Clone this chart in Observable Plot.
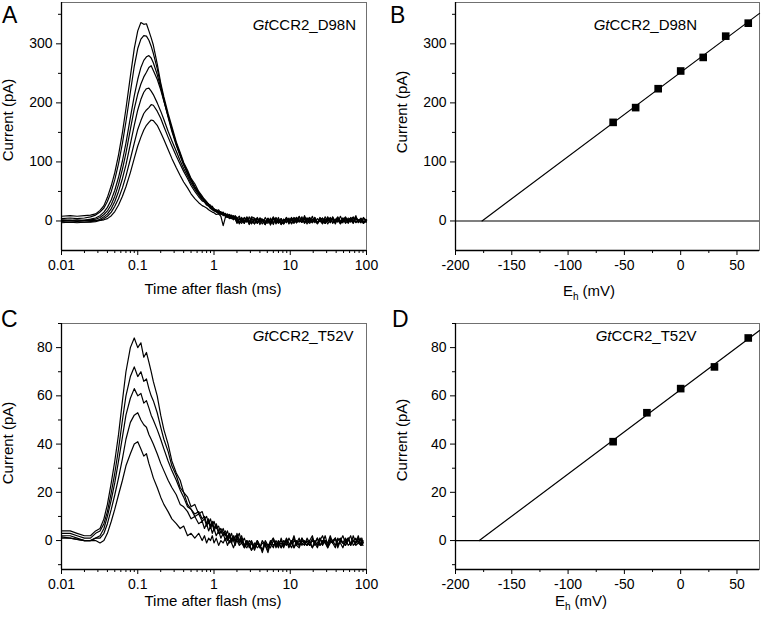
<!DOCTYPE html>
<html>
<head>
<meta charset="utf-8">
<script src="https://cdn.jsdelivr.net/npm/d3@7"></script>
<script src="https://cdn.jsdelivr.net/npm/@observablehq/plot@0.6"></script>
<style>
  body { margin: 0; background: #fff; }
  #fig { position: relative; width: 762px; height: 623px; font-family: "Liberation Sans", Arial, Helvetica, sans-serif; }
  #fig svg { position: absolute; }
</style>
</head>
<body>
<div id="fig"></div>
<script>
// ---------- Panel A: GtCCR2_D98N photocurrent traces (pA) vs time after flash (ms) ----------
const timeA = [0.01, 0.013, 0.016, 0.02, 0.024, 0.028, 0.032, 0.036, 0.04, 0.045, 0.05, 0.056, 0.063, 0.07, 0.08, 0.09,
  0.1, 0.11, 0.12, 0.13, 0.14, 0.15, 0.16, 0.18, 0.2, 0.22, 0.25, 0.28, 0.32, 0.36, 0.4, 0.45,
  0.5, 0.56, 0.63, 0.7, 0.75, 0.8, 0.85, 0.9, 0.95, 1.0, 1.07, 1.15, 1.23, 1.32, 1.41, 1.5, 1.6, 1.7, 1.8, 1.9,
  2.0, 2.15, 2.3, 2.5, 2.7, 2.9, 3.1, 3.4, 3.7, 4.0, 4.3, 4.7, 5.1, 5.5, 6.0, 6.5, 7.0, 7.6, 8.2, 8.9,
  9.6, 10.4, 11.2, 12.1, 13.1, 14.2, 15.4, 16.6, 18, 19.5, 21, 22.7, 24.5, 26.5, 28.7, 31, 33.5, 36, 39, 42,
  45.5, 49, 53, 57.5, 62, 67, 72.5, 78, 84.5, 91, 100];

const A_p60 = [8, 9, 8, 9, 10, 12, 18, 26, 40, 60, 82, 112, 150, 190, 245, 292,
  322, 336, 333, 334, 322, 310, 298, 266, 234, 210, 182, 160, 134, 116, 99, 86,
  72, 63, 50, 42, 36, 33, 28, 27, 22, 21, 17, 19, 13, 15, 9, 12, 8, 10, 6, 9,
  4, 8, -1, 6, 2, -3, 7, 5, -4, 3, 0, -6, 4, -2, 7, -5, 2, -6, 3, -3,
  5, -4, 6, -1, 8, -2, 4, -5, 3, -1, 6, -4, 2, -3, 7, 0, 5, -4, 3, -2,
  8, -1, 4, -3, 6, 0, 9, -2, 5, -3, 1];
const A_p40 = [4, 5, 4, 5, 7, 10, 15, 22, 33, 50, 70, 97, 132, 168, 218, 262,
  292, 308, 314, 313, 306, 296, 284, 258, 230, 206, 178, 156, 130, 112, 96, 82,
  70, 58, 48, 40, 37, 31, 29, 24, 25, 20, 19, 15, 16, 11, 13, 9, 11, 7, 9, 5,
  -2, 5, 1, -4, 7, 0, -5, 4, -2, 5, 2, -6, 2, -3, 6, 1, -4, 1, -5, 4,
  -1, 6, -3, 4, 0, -2, 9, -1, 5, -2, 6, -3, 2, 4, -4, 7, -2, 3, -5, 5,
  1, -3, 6, -1, 3, -4, 5, 2, -2, 6, 0];
const A_p20 = [2, 1, 2, 1, 3, 5, 9, 15, 23, 36, 52, 74, 102, 132, 175, 212,
  240, 260, 272, 278, 280, 276, 268, 248, 226, 204, 176, 152, 128, 110, 95, 80,
  68, 57, 46, 38, 35, 30, 27, 25, 21, 19, 16, 17, 12, 13, 8, 10, 7, 9, 4, 7,
  6, -3, 4, 1, -2, 7, -4, 2, 5, -6, 3, -1, 5, -7, 3, 0, -2, 4, -4, 6,
  -5, 2, 1, -3, 7, -2, 3, 5, -2, 8, -3, 4, 0, -5, 3, -1, 6, -3, 2, 7,
  -4, 1, -2, 5, 3, -3, 6, -1, 4, -4, 2];
const A_0 = [0, 1, 0, 1, 2, 3, 6, 11, 17, 28, 42, 62, 88, 115, 155, 190,
  215, 232, 244, 252, 260, 263, 255, 240, 222, 203, 178, 155, 131, 113, 97, 82,
  70, 58, 48, 38, 36, 30, 28, 25, 22, 19, 18, 14, 15, 11, 12, 7, 9, 5, 8, 4,
  -4, 3, 0, -2, 6, -5, 2, 4, -3, 1, -5, 6, -2, 3, -6, 5, -1, -4, 3, 0,
  -2, 5, -3, 6, 0, 4, -4, 3, 6, -2, 3, -5, 1, 5, -2, 4, -3, 7, -1, 2,
  -4, 5, 0, 3, -2, 6, -3, 1, 4, -1, 2];
const A_m20 = [-1, -2, -1, -2, -1, 0, 3, 7, 12, 21, 33, 50, 72, 95, 130, 162,
  188, 206, 218, 224, 225, 220, 214, 200, 186, 172, 152, 136, 118, 102, 89, 76,
  64, 54, 44, 36, 34, 28, 26, 23, 20, 18, 15, 16, 11, 12, 8, 10, 5, 8, 4, 6,
  2, -5, 6, -1, 3, -6, 4, 0, -4, 5, 1, -3, 2, -5, 4, -2, 6, -6, 1, 4,
  -3, 2, -4, 5, -1, 7, -3, 2, 5, -2, 0, -4, 6, -1, 3, -5, 2, 4, -2, 6,
  -3, 0, 5, -4, 3, 7, -2, 2, -3, 4, 1];
const A_m40 = [-3, -2, -3, -2, -2, -1, 1, 4, 8, 15, 25, 38, 56, 76, 105, 132,
  155, 170, 182, 188, 192, 197, 196, 186, 174, 160, 142, 127, 110, 96, 84, 72,
  60, 50, 41, 34, 32, 27, 25, 21, 19, 17, 16, 12, 13, 9, 10, 6, 8, 4, 7, 3,
  5, -1, -4, 4, 1, -2, 6, -5, 3, -1, 2, -6, 4, -1, 5, -3, 2, -2, -5, 6,
  -1, 3, 5, -3, 2, -2, 6, -1, -4, 3, 1, -3, 5, 0, -4, 6, -2, 3, -1, 4,
  -5, 2, 7, -2, 1, -3, 5, -1, 3, -4, 0];
const A_m60 = [1, 1, 0, 1, 1, 1, 1, 2, 4, 9, 16, 27, 42, 58, 82, 106,
  127, 142, 154, 162, 167, 171, 170, 162, 150, 138, 121, 106, 90, 77, 66, 56,
  46, 38, 31, 26, 24, 22, 19, 17, 15, 14, 11, 12, 8, -8, 6, 7, 4, 5, 2, 4,
  -3, 4, 1, -4, 5, -2, 0, -5, 6, -2, 3, 0, -4, 5, -3, 6, -2, 4, -4, 0,
  3, -5, 2, 6, -2, 4, -1, 5, 1, -3, 4, -2, 0, 5, -4, 2, -1, 6, -3, 3,
  -2, 5, -4, 1, 4, -1, 6, -3, 2, 0, -2];

// ---------- Panel B: peak current (pA) vs holding potential Eh (mV), GtCCR2_D98N ----------
const ehB = [-60, -40, -20, 0, 20, 40, 60];
const peakB = [167, 192, 224, 254, 277, 313, 335];

// ---------- Panel C: GtCCR2_T52V photocurrent traces ----------
const timeC = [0.01, 0.013, 0.016, 0.02, 0.024, 0.028, 0.032, 0.036, 0.04, 0.045, 0.05, 0.056, 0.063, 0.07, 0.08, 0.09,
  0.1, 0.11, 0.12, 0.13, 0.14, 0.15, 0.16, 0.18, 0.2, 0.22, 0.25, 0.28, 0.32, 0.36, 0.4, 0.45,
  0.5, 0.56, 0.63, 0.7, 0.75, 0.8, 0.85, 0.9, 0.95, 1.0, 1.07, 1.15, 1.23, 1.32, 1.41, 1.5, 1.6, 1.7, 1.8, 1.9,
  2.0, 2.15, 2.3, 2.5, 2.7, 2.9, 3.1, 3.4, 3.7, 4.0, 4.3, 4.7, 5.1, 5.5, 6.0, 6.5, 7.0, 7.6, 8.2, 8.9,
  9.6, 10.4, 11.2, 12.1, 13.1, 14.2, 15.4, 16.6, 18, 19.5, 21, 22.7, 24.5, 26.5, 28.7, 31, 33.5, 36, 39, 42,
  45.5, 49, 53, 57.5, 62, 67, 72.5, 78, 84.5, 87, 90];

const C_p60 = [4, 4, 3, 2, 2, 4, 5, 9, 15, 24, 33, 44, 58, 70, 80, 84,
  80, 82, 76, 78, 74, 70, 66, 60, 52, 46, 40, 33, 28, 25, 20, 18,
  14, 15, 11, 12, 9, 10, 7, 9, 6, 8, 5, 6, 3, 5, 2, 4, 1, 3, 0, 2,
  1, 3, -1, 1, -2, 0, -1, -3, 0, -2, -4, -1, -3, 0, -2, -1, -3, 1, -2, 0,
  -3, -1, 2, -2, 0, -1, -2, 1, -1, -3, 0, -2, 1, -1, 2, -2, 0, -1, 1, -3,
  0, 2, -1, 1, -2, 0, -1, 2, -2, 0, -1];
const C_p30 = [3, 3, 2, 1, 1, 3, 4, 7, 12, 20, 28, 38, 50, 60, 68, 72,
  68, 70, 66, 67, 63, 60, 58, 53, 47, 42, 37, 31, 27, 22, 20, 15,
  13, 11, 12, 9, 10, 7, 9, 6, 8, 5, 7, 4, 5, 3, 4, 1, 3, 0, 2, -1,
  3, 0, 2, -2, 0, -3, -1, -4, -1, -3, 0, -2, -4, -1, 1, -2, 0, -3, -1, -2,
  1, -1, -3, 0, -2, 1, -1, 0, -2, 1, -1, -3, 0, 2, -1, -2, 1, 0, -2, 1,
  -1, -3, 0, 1, -2, 2, -1, 0, -2, 1, -1];
const C_0 = [2, 2, 1, 0, 0, 1, 2, 5, 10, 17, 24, 33, 43, 52, 59, 63,
  60, 61, 57, 58, 55, 52, 50, 46, 42, 38, 33, 29, 25, 21, 18, 14,
  13, 10, 11, 8, 9, 6, 8, 5, 7, 4, 6, 3, 4, 2, 3, 0, 2, -1, 1, 0,
  2, -1, 1, -3, -1, -2, 0, -3, -1, -2, -4, 0, -2, -1, 1, -3, -1, 0, -2, 1,
  -1, -3, 0, -1, -2, 1, -1, -2, 0, 2, -2, -1, 1, -2, 0, -1, 2, -1, -3, 0,
  1, -1, -2, 0, 2, -2, -1, 1, 0, -2, 0];
const C_m30 = [1.5, 1, 0.5, 0, 0, 1, 1, 3, 7, 13, 19, 26, 34, 42, 49, 52,
  53, 50, 48, 47, 44, 42, 40, 36, 32, 29, 25, 22, 19, 15, 14, 12,
  9, 10, 7, 8, 5, 7, 4, 6, 3, 5, 2, 4, 1, 3, 0, 2, -1, 1, 0, -2,
  1, -1, 0, -2, -3, -1, -4, -2, 0, -3, -1, -2, -5, -1, -3, 0, -2, -1, -3, 0,
  -2, -1, 1, -2, -3, 0, -1, -2, 0, -3, -1, 1, -2, 0, -1, -3, 0, -1, 1, -2,
  0, -1, -2, 1, -1, 0, -2, -1, 1, -1, -2];
const C_m60 = [1, 1, 0.5, 0, 0, 0, -1, 0, 3, 8, 13, 19, 25, 31, 36, 40,
  41, 38, 35, 36, 32, 29, 26, 22, 18, 15, 12, 9, 7, 5, 6, 2,
  3, 1, 3, 0, 2, -1, 1, 0, 2, -1, 1, -2, 0, -1, 1, -2, 0, -1, -3, -1,
  0, -2, -1, -3, 0, -2, -4, -1, -3, -2, -5, -1, -2, -3, 0, -2, -1, -3, 0, -1,
  -2, 0, -3, -1, 1, -2, 0, -1, -2, 0, -1, 1, -2, -1, 0, -3, -1, 0, 1, -2,
  0, -1, 1, -2, -1, 0, 1, -1, -2, 0, -1];

// ---------- Panel D: peak current vs Eh, GtCCR2_T52V ----------
const ehD = [-60, -30, 0, 30, 60];
const peakD = [41, 53, 63, 72, 84];

// ---------- Axis ticks ----------
const logMajor = [0.01, 0.1, 1, 10, 100];
const logMinor = [0.02, 0.03, 0.04, 0.05, 0.06, 0.07, 0.08, 0.09, 0.2, 0.3, 0.4, 0.5, 0.6, 0.7, 0.8, 0.9,
  2, 3, 4, 5, 6, 7, 8, 9, 20, 30, 40, 50, 60, 70, 80, 90];
const ehMajor = [-200, -150, -100, -50, 0, 50];
const ehMinor = [-175, -125, -75, -25, 25];
const yMajorAB = [0, 100, 200, 300];
const yMinorAB = [50, 150, 250, 350];
const yMajorCD = [0, 20, 40, 60, 80];
const yMinorCD = [-10, 10, 30, 50, 70, 90];

const FONT = '"Liberation Sans", Arial, Helvetica, sans-serif';
const TICK_FS = 14, LABEL_FS = 15, NOTE_FS = 15;
const fig = document.getElementById("fig");

function toRows(time, traces) {
  return traces.flatMap((tr, k) => time.map((t, j) => ({t, v: tr[j], k})));
}
function fitLine(xs, ys, xMax) {
  const mx = d3.mean(xs), my = d3.mean(ys);
  const m = d3.sum(xs, (x, i) => (x - mx) * (ys[i] - my)) / d3.sum(xs, x => (x - mx) ** 2);
  const b = my - m * mx;
  return [{x: -b / m, y: 0}, {x: xMax, y: m * xMax + b}];
}

function frameAxes(xDomain, yDomain, xMaj, xMin, yMaj, yMin) {
  return [
    Plot.frame({stroke: "#707070", strokeWidth: 1}),
    Plot.ruleX([xDomain[0]], {stroke: "black", strokeWidth: 1.3}),
    Plot.ruleY([yDomain[0]], {stroke: "black", strokeWidth: 1.3}),
    Plot.axisY({ticks: yMaj, tickSize: 5, tickPadding: 4, tickFormat: d => String(d), fontSize: TICK_FS, label: null}),
    Plot.axisY({ticks: yMin, tickSize: 3, tickFormat: () => "", label: null}),
    Plot.axisX({ticks: xMaj, tickSize: 5, tickPadding: 5, tickFormat: d => String(d), fontSize: TICK_FS, label: null}),
    Plot.axisX({ticks: xMin, tickSize: 3, tickFormat: () => "", label: null})
  ];
}
function annotation(name, dx, dy) {
  return [
    Plot.text(["Gt"], {text: d => d, frameAnchor: "top-left", dx, dy, textAnchor: "end", lineAnchor: "middle",
      fontStyle: "italic", fontSize: NOTE_FS, fill: "black"}),
    Plot.text([name], {text: d => d, frameAnchor: "top-left", dx, dy, textAnchor: "start", lineAnchor: "middle",
      fontSize: NOTE_FS, fill: "black"})
  ];
}
function place(svg, left, top) {
  svg.style.left = left + "px";
  svg.style.top = top + "px";
  fig.appendChild(svg);
  return d3.select(svg);
}
function yLabel(sel, x, y) {
  sel.append("text").attr("transform", `translate(${x},${y}) rotate(-90)`).attr("text-anchor", "middle")
    .attr("font-family", FONT).attr("font-size", LABEL_FS).attr("fill", "black").text("Current (pA)");
}
function timeLabel(sel, x, y) {
  sel.append("text").attr("x", x).attr("y", y).attr("text-anchor", "middle")
    .attr("font-family", FONT).attr("font-size", LABEL_FS).attr("fill", "black").text("Time after flash (ms)");
}
function ehLabel(sel, x, y) {
  const t = sel.append("text").attr("x", x).attr("y", y).attr("font-family", FONT).attr("font-size", LABEL_FS).attr("fill", "black");
  t.append("tspan").text("E");
  t.append("tspan").attr("font-size", 10).attr("dy", 4).text("h");
  t.append("tspan").attr("dy", -4).text(" (mV)");
}
const plotStyle = {fontFamily: FONT, fontSize: TICK_FS + "px", background: "transparent", overflow: "visible", color: "black"};

// ----- Panel A -----
const dA = {x: [0.01, 100], y: [-50, 370]};
const svgA = Plot.plot({
  width: 381, height: 305, marginLeft: 61, marginRight: 15, marginTop: 2, marginBottom: 55,
  style: plotStyle,
  x: {type: "log", domain: dA.x}, y: {domain: dA.y},
  marks: [
    ...frameAxes(dA.x, dA.y, logMajor, logMinor, yMajorAB, yMinorAB),
    Plot.line(toRows(timeA, [A_p60, A_p40, A_p20, A_0, A_m20, A_m40, A_m60]),
      {x: "t", y: "v", z: "k", stroke: "black", strokeWidth: 1.2}),
    ...annotation("CCR2_D98N", 207, 23)
  ]
});
const sA = place(svgA, 0, 0);
yLabel(sA, 13, 120);
timeLabel(sA, 213, 294);

// ----- Panel B -----
const dB = {x: [-200, 70], y: [-50, 370]};
const svgB = Plot.plot({
  width: 381, height: 305, marginLeft: 74, marginRight: 3, marginTop: 2, marginBottom: 55,
  style: plotStyle,
  x: {domain: dB.x}, y: {domain: dB.y},
  marks: [
    ...frameAxes(dB.x, dB.y, ehMajor, ehMinor, yMajorAB, yMinorAB),
    Plot.ruleY([0], {stroke: "black", strokeWidth: 1.2}),
    Plot.line(fitLine(ehB, peakB, dB.x[1]), {x: "x", y: "y", stroke: "black", strokeWidth: 1.2}),
    Plot.dot(ehB.map((e, i) => ({e, p: peakB[i]})), {x: "e", y: "p", symbol: "square", r: 4.3, fill: "black", stroke: "none"}),
    ...annotation("CCR2_D98N", 154, 23)
  ]
});
const sB = place(svgB, 381, 0);
yLabel(sB, 26, 112);
ehLabel(sB, 208, 296);

// ----- Panel C -----
const dC = {x: [0.01, 100], y: [-12, 90]};
const svgC = Plot.plot({
  width: 381, height: 313, marginLeft: 61, marginRight: 15, marginTop: 13, marginBottom: 54,
  style: plotStyle,
  x: {type: "log", domain: dC.x}, y: {domain: dC.y},
  marks: [
    ...frameAxes(dC.x, dC.y, logMajor, logMinor, yMajorCD, yMinorCD),
    Plot.line(toRows(timeC, [C_p60, C_p30, C_0, C_m30, C_m60]),
      {x: "t", y: "v", z: "k", stroke: "black", strokeWidth: 1.2}),
    ...annotation("CCR2_T52V", 207, 13)
  ]
});
const sC = place(svgC, 0, 310);
yLabel(sC, 13, 133);
timeLabel(sC, 213, 296);

// ----- Panel D -----
const dD = {x: [-200, 70], y: [-12, 90]};
const svgD = Plot.plot({
  width: 381, height: 313, marginLeft: 74, marginRight: 3, marginTop: 13, marginBottom: 54,
  style: plotStyle,
  x: {domain: dD.x}, y: {domain: dD.y},
  marks: [
    ...frameAxes(dD.x, dD.y, ehMajor, ehMinor, yMajorCD, yMinorCD),
    Plot.ruleY([0], {stroke: "black", strokeWidth: 1.2}),
    Plot.line(fitLine(ehD, peakD, dD.x[1]), {x: "x", y: "y", stroke: "black", strokeWidth: 1.2}),
    Plot.dot(ehD.map((e, i) => ({e, p: peakD[i]})), {x: "e", y: "p", symbol: "square", r: 4.3, fill: "black", stroke: "none"}),
    ...annotation("CCR2_T52V", 156, 13)
  ]
});
const sD = place(svgD, 381, 310);
yLabel(sD, 26, 130);
ehLabel(sD, 200, 296);

// ----- Panel letters -----
const over = d3.select(fig).append("svg").attr("width", 762).attr("height", 623)
  .style("left", "0px").style("top", "0px").style("pointer-events", "none");
[["A", 2, 23], ["B", 390, 23], ["C", 1, 327], ["D", 392, 327]].forEach(([s, x, y]) => {
  over.append("text").attr("x", x).attr("y", y).attr("font-family", FONT).attr("font-size", 23).attr("fill", "black").text(s);
});
</script>
</body>
</html>
